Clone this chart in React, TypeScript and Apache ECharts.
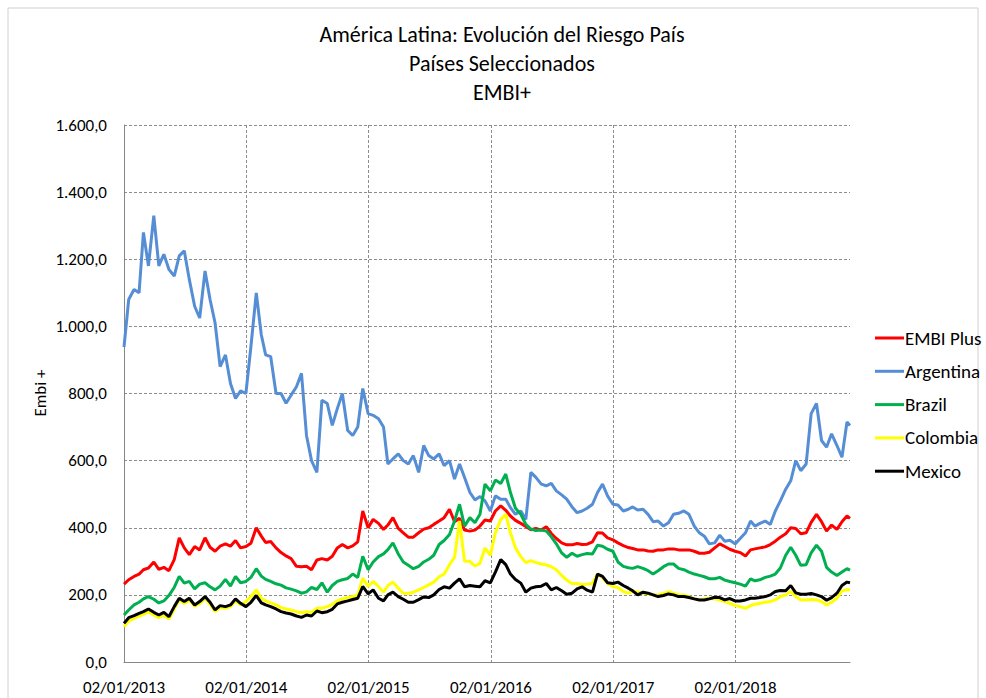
import React, { useEffect, useRef } from "react";
import * as echarts from "echarts";

const dates = [
  "2013-01-02","2013-01-16","2013-02-01","2013-02-16","2013-03-01","2013-03-16","2013-04-01","2013-04-16","2013-05-01","2013-05-16","2013-06-01","2013-06-16","2013-07-01","2013-07-16","2013-08-01","2013-08-16","2013-09-01","2013-09-16","2013-10-01","2013-10-16","2013-11-01","2013-11-16","2013-12-01","2013-12-16",
  "2014-01-01","2014-01-16","2014-02-01","2014-02-16","2014-03-01","2014-03-16","2014-04-01","2014-04-16","2014-05-01","2014-05-16","2014-06-01","2014-06-16","2014-07-01","2014-07-16","2014-08-01","2014-08-16","2014-09-01","2014-09-16","2014-10-01","2014-10-16","2014-11-01","2014-11-16","2014-12-01","2014-12-16",
  "2015-01-01","2015-01-16","2015-02-01","2015-02-16","2015-03-01","2015-03-16","2015-04-01","2015-04-16","2015-05-01","2015-05-16","2015-06-01","2015-06-16","2015-07-01","2015-07-16","2015-08-01","2015-08-16","2015-09-01","2015-09-16","2015-10-01","2015-10-16","2015-11-01","2015-11-16","2015-12-01","2015-12-16",
  "2016-01-01","2016-01-16","2016-02-01","2016-02-16","2016-03-01","2016-03-16","2016-04-01","2016-04-16","2016-05-01","2016-05-16","2016-06-01","2016-06-16","2016-07-01","2016-07-16","2016-08-01","2016-08-16","2016-09-01","2016-09-16","2016-10-01","2016-10-16","2016-11-01","2016-11-16","2016-12-01","2016-12-16",
  "2017-01-01","2017-01-16","2017-02-01","2017-02-16","2017-03-01","2017-03-16","2017-04-01","2017-04-16","2017-05-01","2017-05-16","2017-06-01","2017-06-16","2017-07-01","2017-07-16","2017-08-01","2017-08-16","2017-09-01","2017-09-16","2017-10-01","2017-10-16","2017-11-01","2017-11-16","2017-12-01","2017-12-16",
  "2018-01-01","2018-01-16","2018-02-01","2018-02-16","2018-03-01","2018-03-16","2018-04-01","2018-04-16","2018-05-01","2018-05-16","2018-06-01","2018-06-16","2018-07-01","2018-07-16","2018-08-01","2018-08-16","2018-09-01","2018-09-16","2018-10-01","2018-10-16","2018-11-01","2018-11-16","2018-12-01","2018-12-10",
];

const embiPlus = [
  232,245,255,262,275,280,298,276,282,272,305,370,340,320,344,334,370,342,330,345,352,345,362,340,
  344,354,400,375,356,359,340,326,316,308,285,284,285,275,304,308,304,315,340,350,340,346,358,450,
  400,425,413,395,408,430,398,385,372,372,385,396,400,410,420,430,455,418,428,393,390,393,405,423,
  420,450,465,452,435,422,413,404,394,398,393,403,383,368,355,349,349,353,350,351,358,385,384,370,
  364,355,347,341,338,334,334,331,330,334,334,337,337,334,334,334,330,324,324,327,340,352,344,336,
  330,326,316,334,337,340,343,350,360,372,382,400,398,382,385,416,440,418,390,408,395,418,435,428,
];

const argentina = [
  938,1080,1110,1100,1280,1180,1330,1180,1215,1170,1150,1210,1225,1140,1060,1025,1165,1080,1010,880,915,830,785,808,
  800,940,1100,975,915,910,800,800,771,795,820,860,675,600,565,780,770,705,755,800,690,675,700,815,
  740,735,725,700,590,605,620,600,590,615,565,645,615,605,620,585,600,545,590,550,505,483,493,480,
  450,495,485,485,460,440,450,425,565,550,530,525,532,510,498,485,462,445,450,458,470,505,530,495,
  470,468,450,455,462,453,455,440,418,420,405,415,440,443,450,440,405,385,375,352,355,378,360,363,
  352,368,385,420,405,413,420,410,450,480,515,540,600,570,590,740,770,660,640,680,645,610,715,705,
];

const brazil = [
  140,155,170,178,188,195,187,176,182,198,222,255,235,240,218,232,236,224,215,226,246,226,255,236,
  240,252,278,256,246,240,233,229,221,217,212,205,209,222,216,236,208,228,240,245,249,262,252,315,
  275,298,314,322,335,355,322,298,288,278,285,298,306,318,350,362,380,420,470,405,430,415,440,530,
  510,542,532,560,505,458,440,410,396,392,393,390,373,352,325,312,324,315,320,323,322,348,345,336,
  330,298,285,281,279,284,279,272,262,272,284,292,292,279,275,268,262,258,254,248,248,252,244,240,
  236,232,226,248,242,245,252,256,262,280,318,342,318,288,290,325,348,330,282,268,258,268,278,274,
];

const colombia = [
  105,122,130,137,142,150,140,132,140,128,158,186,174,184,166,174,190,172,150,162,160,165,182,170,
  180,195,215,190,182,176,170,162,158,155,150,147,150,148,160,160,165,172,182,188,192,195,200,250,
  225,240,225,208,228,238,220,205,204,208,215,222,230,238,254,262,290,312,420,300,300,286,294,340,
  318,385,425,440,385,340,314,296,302,296,292,289,284,275,258,244,234,234,230,232,234,262,252,234,
  225,222,210,205,212,208,205,203,200,200,204,210,205,200,200,195,188,185,188,190,188,185,180,175,
  168,165,160,168,172,175,178,180,185,195,200,210,195,185,185,186,185,180,170,178,190,212,215,215,
];

const mexico = [
  115,132,138,145,150,158,148,140,148,135,165,190,180,190,170,180,195,178,155,168,165,170,188,175,
  165,178,198,176,170,165,158,150,146,143,137,133,140,137,152,147,150,157,173,178,182,186,190,225,
  203,215,190,182,200,208,195,187,178,178,186,194,192,200,216,224,220,235,248,224,228,226,224,242,
  236,268,305,290,262,246,235,208,220,224,226,234,215,222,212,202,205,218,224,214,208,262,255,236,
  234,238,228,220,212,200,208,205,200,195,198,203,200,195,195,192,188,185,185,188,193,192,185,189,
  182,182,185,190,190,192,195,200,210,213,212,228,206,202,202,204,200,195,184,192,205,228,238,236,
];

const seriesNames = ["EMBI Plus", "Argentina", "Brazil", "Colombia", "Mexico"];
const seriesColors = ["#FF0000", "#558ED5", "#00B050", "#FFFF00", "#000000"];
const seriesValues = [embiPlus, argentina, brazil, colombia, mexico];

const titleLines = ["América Latina: Evolución del Riesgo País", "Países Seleccionados", "EMBI+"];
const yAxisTitle = "Embi +";

const FONT = "Carlito, Calibri, Lato, 'Open Sans', sans-serif";
const START = Date.UTC(2013, 0, 2);
const YEAR_MS = 365.25 * 86400000;
function toT(d: string): number {
  const [y, m, day] = d.split("-").map(Number);
  return 2013 + (Date.UTC(y, m - 1, day) - START) / YEAR_MS;
}
function fmtNum(v: number): string {
  const s = Math.round(v).toString();
  const withDots = s.replace(/\B(?=(\d{3})+(?!\d))/g, ".");
  return withDots + ",0";
}

export default function App() {
  const ref = useRef<HTMLDivElement>(null);
  useEffect(() => {
    if (!ref.current) return;
    const chart = echarts.init(ref.current, null, { renderer: "svg" });
    const endT = toT(dates[dates.length - 1]);
    const option: any = {
      animation: false,
      backgroundColor: "#ffffff",
      grid: { left: 124, right: 136, top: 125, bottom: 36, containLabel: false },
      legend: {
        orient: "vertical",
        left: 870,
        top: 323,
        icon: "rect",
        itemWidth: 29,
        itemHeight: 3,
        itemGap: 13.3,
        textStyle: { fontFamily: FONT, fontSize: 19, lineHeight: 20, color: "#000", padding: [0, 0, 0, -4] },
        data: seriesNames,
      },
      graphic: [
        { type: "rect", shape: { x: 8, y: 8, width: 970, height: 700 }, style: { fill: "none", stroke: "#d0d0d0", lineWidth: 1 }, silent: true },
        ...titleLines.map((t, i) => ({
          type: "text",
          x: 502,
          y: 34 + i * 29,
          style: { text: t, fontFamily: FONT, fontSize: 22, fill: "#000", textAlign: "center", textVerticalAlign: "middle" },
        })),
        {
          type: "text",
          x: 40,
          y: 393,
          rotation: Math.PI / 2,
          style: { text: yAxisTitle, fontFamily: FONT, fontSize: 17, fill: "#000", textAlign: "center", textVerticalAlign: "middle" },
        },
      ],
      xAxis: {
        type: "value",
        min: 2013,
        max: endT,
        interval: 1,
        axisLine: { show: true, lineStyle: { color: "#868686", width: 1 } },
        axisTick: { show: false },
        axisLabel: {
          fontFamily: FONT,
          fontSize: 17,
          color: "#000",
          margin: 17,
          showMaxLabel: false,
          formatter: (v: number) => "02/01/" + Math.round(v),
        },
        splitLine: { show: true, showMinLine: false, showMaxLine: false, lineStyle: { color: "#8c8c8c", type: [3, 2], width: 1 } },
      },
      yAxis: {
        type: "value",
        min: 0,
        max: 1600,
        interval: 200,
        axisLine: { show: true, lineStyle: { color: "#868686", width: 1 } },
        axisTick: { show: false },
        axisLabel: { fontFamily: FONT, fontSize: 17, color: "#000", margin: 17, formatter: (v: number) => fmtNum(v) },
        splitLine: { show: true, lineStyle: { color: "#8c8c8c", type: [3, 2], width: 1 } },
      },
      series: seriesNames.map((name, k) => ({
        name,
        type: "line",
        showSymbol: false,
        symbol: "none",
        color: seriesColors[k],
        lineStyle: { width: 3, color: seriesColors[k] },
        data: dates.map((d, i) => [toT(d), seriesValues[k][i]]),
      })),
    };
    chart.setOption(option);
    return () => chart.dispose();
  }, []);
  return <div ref={ref} style={{ position: "absolute", left: 0, top: 0, width: 986, height: 698 }} />;
}
